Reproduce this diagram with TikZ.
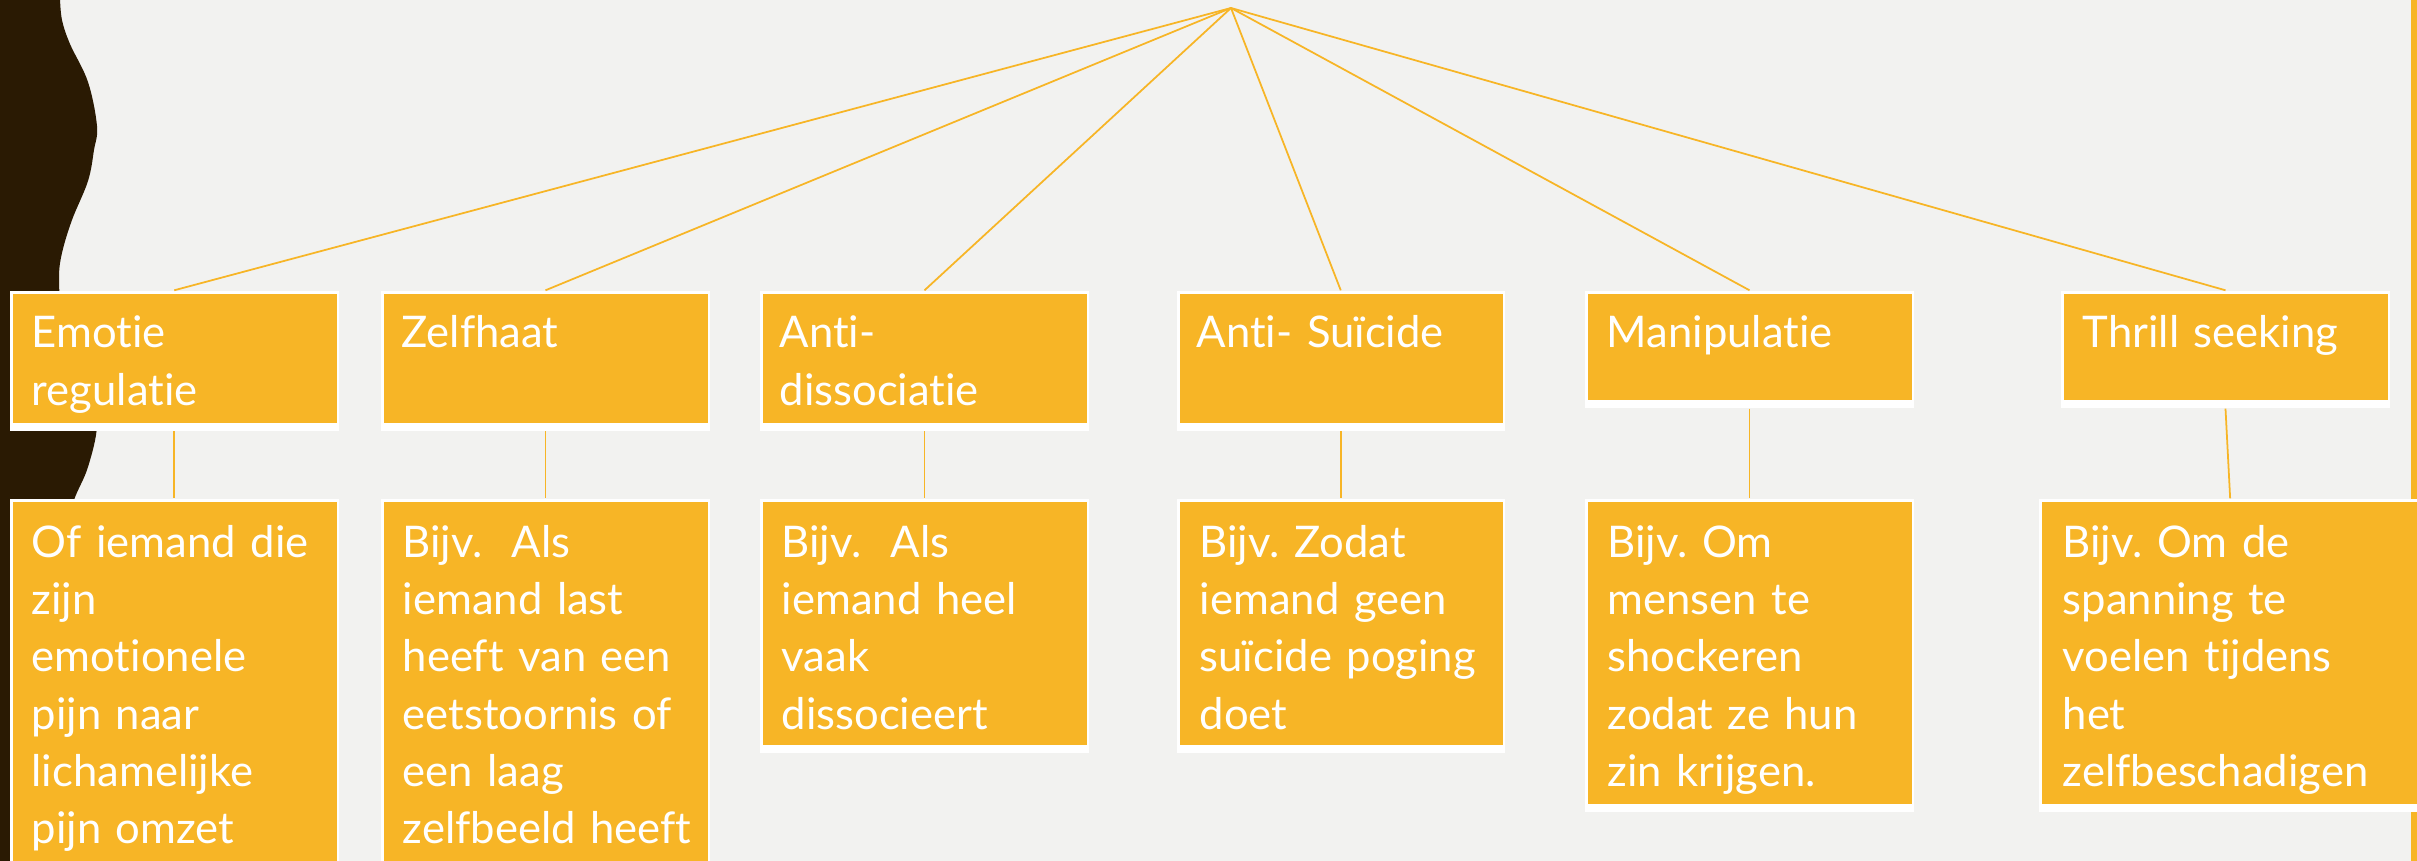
\documentclass[tikz,border=0pt]{standalone}
\usepackage{fontspec}
\setmainfont{Lato}[Ligatures=CommonOff]
\usetikzlibrary{fit}
\definecolor{bg}{HTML}{F2F2F0}
\definecolor{boxorange}{HTML}{F7B526}
\definecolor{darkbrown}{HTML}{2A1A03}
\frenchspacing
\begin{document}
\begin{tikzpicture}[x=0.01cm,y=-0.01cm,
  frame/.style={fill=white, inner sep=0pt,
    path picture={\fill[boxorange]
      ([xshift=0.03cm,yshift=-0.03cm]path picture bounding box.north west) rectangle
      ([xshift=-0.02cm,yshift=0.08cm]path picture bounding box.south east);}},
  txt/.style={text=white, font=\fontsize{12.4}{16.3}\selectfont, anchor=base west,
    align=left, inner sep=0pt, text width=3.6cm},
  conn/.style={draw=boxorange, line width=0.5pt}]
\useasboundingbox (0,0) rectangle (2417,861);
\clip (0,0) rectangle (2417,861);
\fill[bg] (0,0) rectangle (2417,861);
% dark wavy shape on the left
\fill[darkbrown] (0,-5) -- (60,-5) -- plot[smooth, tension=0.6] coordinates {
  (60,-2) (62,20) (70,44) (88,82) (97,126) (94,150) (88,181) (72,220) (62,253)
  (59,278) (62,310) (75,350) (90,390) (97,425) (88,467) (74,500) (62,540)}
  -- (40,861) -- (0,861) -- cycle;
% right orange bar
\fill[boxorange] (2411,0) rectangle (2420,861);
\coordinate (apex) at (1231,8);
% top boxes
\node[frame, fit={(9.5,291)(339,430.7)}] (t1) {};
\node[frame, fit={(381,291)(710,430.7)}] (t2) {};
\node[frame, fit={(760,291)(1089,430.7)}] (t3) {};
\node[frame, fit={(1176.5,291)(1505,430.7)}] (t4) {};
\node[frame, fit={(1585,291)(1914,408)}] (t5) {};
\node[frame, fit={(2061,291)(2390,408)}] (t6) {};
% bottom boxes
\node[frame, fit={(9.5,499)(339,880)}] (b1) {};
\node[frame, fit={(381,499)(710,880)}] (b2) {};
\node[frame, fit={(760,499)(1089,753)}] (b3) {};
\node[frame, fit={(1176.5,499)(1505,753)}] (b4) {};
\node[frame, fit={(1585,499)(1914,812)}] (b5) {};
\node[frame, fit={(2039.3,499)(2421,812)}] (b6) {};
% connectors
\foreach \n in {t1,t2,t3,t4,t5,t6} \draw[conn] (apex) -- (\n.north);
\foreach \i in {1,...,6} \draw[conn] (t\i.south) -- (b\i.north);
% texts
\node[txt] (l1) at (31,348) {Emotie\\regulatie};
\node[txt] (l2) at (401,348) {Zelfhaat};
\node[txt] (l3) at (779,348) {Anti-\\dissociatie};
\node[txt] (l4) at (1196,348) {Anti- Suïcide};
\node[txt] (l5) at (1606,348) {Manipulatie};
\node[txt] (l6) at (2082,348) {Thrill seeking};
\node[txt] (m1) at (31,557.3) {Of iemand die\\zijn\\emotionele\\pijn naar\\lichamelijke\\pijn omzet};
\node[txt] (m2) at (402,557.3) {Bijv.\ \ Als\\iemand last\\heeft van een\\eetstoornis of\\een laag\\zelfbeeld heeft};
\node[txt] (m3) at (781,557.3) {Bijv.\ \ Als\\iemand heel\\vaak\\dissocieert};
\node[txt] (m4) at (1199,557.3) {Bijv. Zodat\\iemand geen\\suïcide poging\\doet};
\node[txt] (m5) at (1607,557.3) {Bijv. Om\\mensen te\\shockeren\\zodat ze hun\\zin krijgen.};
\node[txt] (m6) at (2062,557.3) {Bijv. Om de\\spanning te\\voelen tijdens\\het\\zelfbeschadigen};
\end{tikzpicture}
\end{document}
